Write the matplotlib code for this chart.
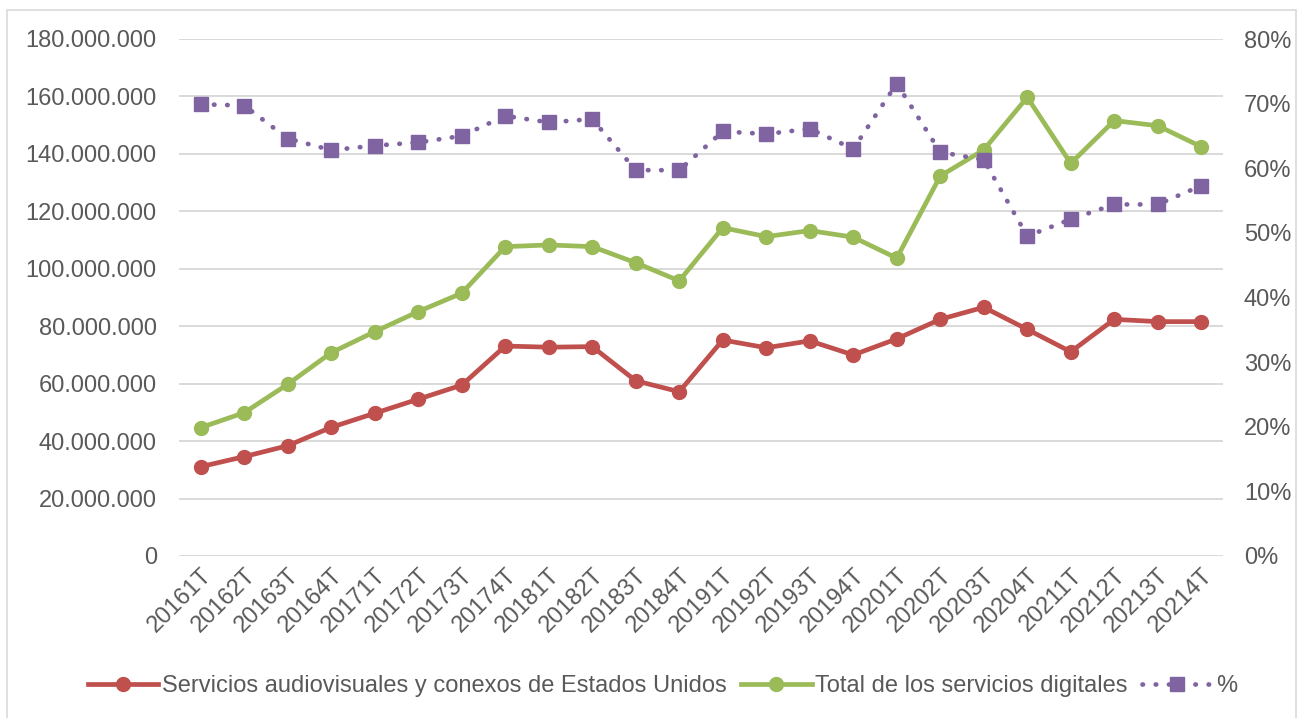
import matplotlib.pyplot as plt
from matplotlib.ticker import FuncFormatter, MultipleLocator
from matplotlib.patches import Rectangle

plt.rcParams['font.family'] = ['Liberation Sans', 'DejaVu Sans']

trimestres = ['20161T', '20162T', '20163T', '20164T', '20171T', '20172T', '20173T', '20174T',
              '20181T', '20182T', '20183T', '20184T', '20191T', '20192T', '20193T', '20194T',
              '20201T', '20202T', '20203T', '20204T', '20211T', '20212T', '20213T', '20214T']

audiovisuales = [31.1, 34.6, 38.4, 44.8, 49.7, 54.6, 59.5, 73.1,
                 72.7, 72.9, 61.0, 57.2, 75.2, 72.5, 74.9, 70.0,
                 75.6, 82.4, 86.6, 78.9, 71.1, 82.4, 81.6, 81.6]

digitales = [44.7, 49.9, 59.8, 70.8, 78.1, 85.1, 91.5, 107.7,
             108.3, 107.7, 102.1, 95.8, 114.3, 111.2, 113.3, 111.0,
             103.7, 132.3, 141.4, 159.7, 136.7, 151.6, 149.8, 142.5]

porcentaje = [69.9, 69.7, 64.6, 62.8, 63.5, 64.0, 65.0, 68.1,
              67.1, 67.6, 59.7, 59.7, 65.7, 65.3, 66.1, 63.0,
              73.1, 62.5, 61.3, 49.5, 52.1, 54.4, 54.4, 57.3]

# millones -> unidades
audiovisuales = [v * 1e6 for v in audiovisuales]
digitales = [v * 1e6 for v in digitales]

gris = '#595959'
rojo = '#C0504D'
verde = '#9BBB59'
morado = '#8064A2'

fig = plt.figure(figsize=(13.12, 7.18), dpi=100)
ax1 = fig.add_axes([179 / 1312, 1 - 556 / 718, (1223 - 179) / 1312, (556 - 39) / 718])
ax2 = ax1.twinx()

x = list(range(len(trimestres)))

l1, = ax1.plot(x, audiovisuales, color=rojo, lw=3.4, marker='o', markersize=10,
               label='Servicios audiovisuales y conexos de Estados Unidos', zorder=3)
l2, = ax1.plot(x, digitales, color=verde, lw=3.4, marker='o', markersize=10,
               label='Total de los servicios digitales', zorder=3)
l3, = ax2.plot(x, porcentaje, color=morado, lw=3.4, marker='s', markersize=10,
               linestyle=(0, (0.1, 2.7)), dash_capstyle='round', label='%', zorder=3)

ax1.set_xlim(-0.5, len(trimestres) - 0.5)
ax1.set_ylim(0, 180e6)
ax2.set_ylim(0, 80)
ax1.yaxis.set_major_locator(MultipleLocator(20e6))
ax2.yaxis.set_major_locator(MultipleLocator(10))
ax1.yaxis.set_major_formatter(FuncFormatter(lambda v, p: f'{v:,.0f}'.replace(',', '.')))
ax2.yaxis.set_major_formatter(FuncFormatter(lambda v, p: f'{v:.0f}%'))

ax1.grid(axis='y', color='#d9d9d9', lw=1.4)
ax1.set_axisbelow(True)

ax1.set_xticks(x)
ax1.set_xticklabels(trimestres, rotation=45, ha='right', va='top', rotation_mode='anchor')

for ax in (ax1, ax2):
    for s in ax.spines.values():
        s.set_visible(False)
    ax.tick_params(length=0, labelsize=17, labelcolor=gris)
ax1.tick_params(axis='y', pad=16)
ax2.tick_params(axis='y', pad=15)
ax1.tick_params(axis='x', pad=6)

fig.legend(handles=[l1, l2, l3], loc='center', bbox_to_anchor=(0.505, 1 - 686 / 718),
           ncol=3, frameon=False, fontsize=17, labelcolor=gris, handlelength=3.0,
           handletextpad=0.15, columnspacing=0.6)

# borde del gráfico
fig.patches.append(Rectangle((7 / 1312, -0.01), (1296 - 7) / 1312, 1 - 10 / 718 + 0.01,
                             transform=fig.transFigure, fill=False, edgecolor='#d9d9d9', lw=1.2))

fig.savefig('out.png', dpi=100)
